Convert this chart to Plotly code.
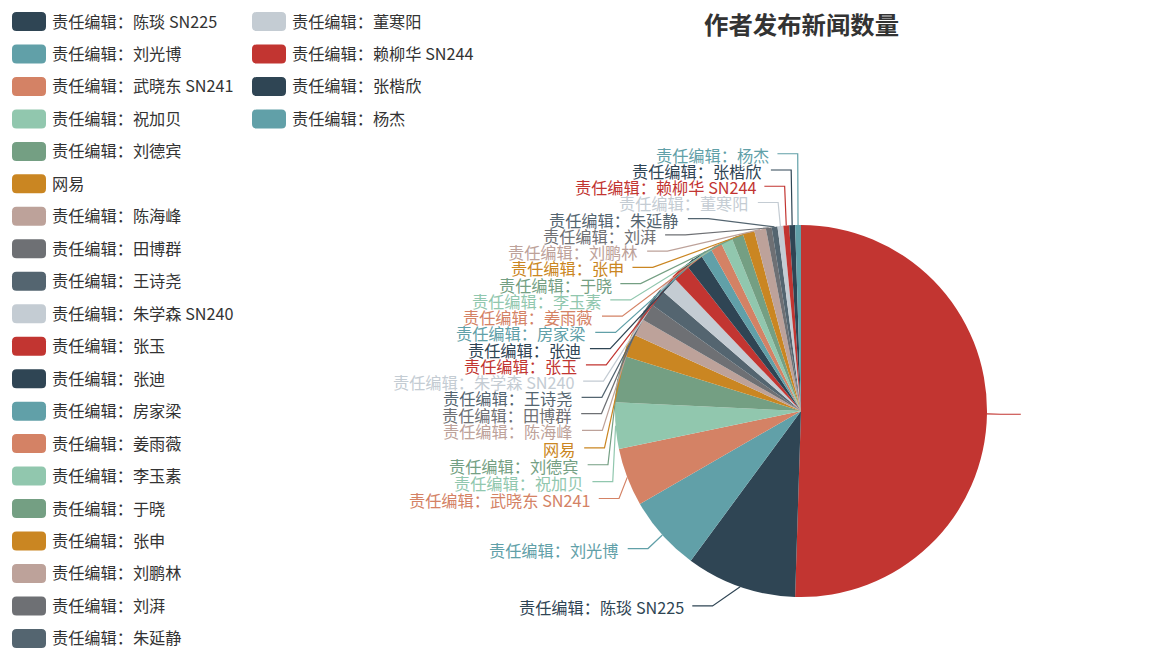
#!/usr/bin/env python3
# 作者发布新闻数量 - pie with stacked outside labels (echarts-like look)

import math
import plotly.graph_objects as go

# slice names (first slice has no name) and article counts
names = [
    "", "责任编辑：陈琰 SN225", "责任编辑：刘光博", "责任编辑：武晓东 SN241",
    "责任编辑：祝加贝", "责任编辑：刘德宾", "网易", "责任编辑：陈海峰",
    "责任编辑：田博群", "责任编辑：王诗尧", "责任编辑：朱学森 SN240", "责任编辑：张玉",
    "责任编辑：张迪", "责任编辑：房家梁", "责任编辑：姜雨薇", "责任编辑：李玉素",
    "责任编辑：于晓", "责任编辑：张申", "责任编辑：刘鹏林", "责任编辑：刘湃",
    "责任编辑：朱延静", "责任编辑：董寒阳", "责任编辑：赖柳华 SN244", "责任编辑：张楷欣",
    "责任编辑：杨杰",
]
counts = [100, 19, 13, 10, 8, 8, 4, 3, 3, 3, 3, 3, 3, 2, 2, 2, 2, 2, 2, 1, 1, 1, 1, 1, 1]
palette = ["#c23531", "#2f4554", "#61a0a8", "#d48265", "#91c7ae", "#749f83",
           "#ca8622", "#bda29a", "#6e7074", "#546570", "#c4ccd3"]
title = "作者发布新闻数量"

W, H = 1169, 671
CX, CY, R = 801, 411, 186
S = 1.353                      # echarts default sizes, scaled to this picture
LEN1 = LEN2 = 15 * S
GAP = 5 * S
LABEL_H = 12 * S
FONT = "Noto Sans CJK SC"

colors = [palette[i % len(palette)] for i in range(len(names))]

# ---- label placement, same idea as echarts' pie label layout
total = sum(counts)
items = []
acc = 0
for i, v in enumerate(counts):
    mid = (acc + v / 2) / total * 2 * math.pi
    acc += v
    nx, ny = math.sin(mid), -math.cos(mid)
    x1, y1 = CX + R * nx, CY + R * ny
    x2, y2 = x1 + nx * LEN1, y1 + ny * LEN1
    side = -1 if nx < 0 else 1
    x3 = x2 + side * LEN2
    items.append(dict(i=i, x=x3 + side * GAP, y=y2, side=side,
                      pts=[[x1, y1], [x2, y2], [x3, y2]]))


def change_x(lst, is_down, side):
    last = float("inf") if is_down else 0
    for o in lst:
        dy = abs(o["y"] - CY)
        if dy < R + LEN1:
            dx = math.sqrt((R + LEN1 + LEN2) ** 2 - dy ** 2)
        else:
            dx = abs(o["x"] - CX)
        if is_down and dx >= last:
            dx = last - 10 * S
        if not is_down and dx <= last:
            dx = last + 10 * S
        o["x"] = CX + dx * side
        last = dx


def adjust_side(lst, side):
    lst.sort(key=lambda o: o["y"])
    n = len(lst)

    def shift_up(end, delta):
        for j in range(end, -1, -1):
            if lst[j]["y"] - delta < 0:
                break
            lst[j]["y"] -= delta
            if j > 0 and lst[j]["y"] > lst[j - 1]["y"] + LABEL_H:
                break

    def shift_down(start, end, delta):
        for j in range(start, end):
            if lst[j]["y"] + delta > H:
                break
            lst[j]["y"] += delta
            if j > start and j + 1 < end and lst[j + 1]["y"] > lst[j]["y"] + LABEL_H:
                shift_up(j, delta / 2)
                return
        shift_up(end - 1, delta / 2)

    last_y = 0
    for k in range(n):
        delta = lst[k]["y"] - last_y
        if delta < 0:
            shift_down(k, n, -delta)
        last_y = lst[k]["y"] + LABEL_H
    if H - last_y < 0:
        shift_up(n - 1, last_y - H)
    change_x([o for o in lst if o["y"] < CY], False, side)
    change_x([o for o in lst if o["y"] >= CY], True, side)


adjust_side([o for o in items if o["side"] < 0], -1)
adjust_side([o for o in items if o["side"] > 0], 1)

for o in items:
    p = o["pts"]
    dist = p[1][0] - p[2][0]
    p[2][0] = o["x"] - o["side"] * GAP
    p[1][0] = p[2][0] + dist
    p[1][1] = p[2][1] = o["y"]

# ---- figure
fig = go.Figure()
fig.add_trace(go.Pie(
    labels=[n or " " for n in names],
    values=counts,
    sort=False,
    direction="clockwise",
    textinfo="none",
    marker=dict(colors=colors),
    showlegend=False,
    hoverinfo="label+value+percent",
    domain=dict(x=[(CX - R) / W, (CX + R) / W], y=[(H - CY - R) / H, (H - CY + R) / H]),
))
# empty trace so the pixel axes exist for lines and texts
fig.add_trace(go.Scatter(x=[], y=[], showlegend=False, hoverinfo="skip"))

shapes = []
annotations = []
for o in items:
    p = o["pts"]
    c = colors[o["i"]]
    shapes.append(dict(
        type="path", xref="x", yref="y", layer="above",
        path="M{:.2f},{:.2f} L{:.2f},{:.2f} L{:.2f},{:.2f}".format(*p[0], *p[1], *p[2]),
        line=dict(color=c, width=1.2),
    ))
    if names[o["i"]]:
        annotations.append(dict(
            xref="x", yref="y", x=o["x"], y=o["y"] + 1, text=names[o["i"]],
            showarrow=False, xanchor="right" if o["side"] < 0 else "left",
            yanchor="middle", font=dict(family=FONT, size=16.2, color=c),
        ))

# legend (two columns of 20 rows), drawn by hand
rows = 20
for k, n in enumerate(names[1:]):
    col, row = divmod(k, rows)
    c = colors[k + 1]
    x0 = 12 + col * 240
    yc = 21.5 + row * 32.47
    w, h, rr = 34, 19, 4.5
    y0, y1, x1 = yc - h / 2, yc + h / 2, x0 + w
    shapes.append(dict(
        type="path", xref="x", yref="y", layer="above",
        path=(f"M{x0 + rr},{y0} L{x1 - rr},{y0} Q{x1},{y0} {x1},{y0 + rr} "
              f"L{x1},{y1 - rr} Q{x1},{y1} {x1 - rr},{y1} L{x0 + rr},{y1} "
              f"Q{x0},{y1} {x0},{y1 - rr} L{x0},{y0 + rr} Q{x0},{y0} {x0 + rr},{y0} Z"),
        fillcolor=c, line=dict(width=0),
    ))
    annotations.append(dict(
        xref="x", yref="y", x=x1 + 3.5, y=yc - 1, text=n, showarrow=False,
        xanchor="left", yanchor="middle",
        font=dict(family=FONT, size=16.2, color="#333"),
    ))

annotations.append(dict(
    xref="x", yref="y", x=CX, y=23, text=f"<b>{title}</b>", showarrow=False,
    xanchor="center", yanchor="middle",
    font=dict(family=FONT, size=24.4, color="#333"),
))

fig.update_layout(
    width=W, height=H,
    margin=dict(l=0, r=0, t=0, b=0),
    paper_bgcolor="white", plot_bgcolor="rgba(0,0,0,0)",
    xaxis=dict(range=[0, W], visible=False, fixedrange=True),
    yaxis=dict(range=[H, 0], visible=False, fixedrange=True),
    shapes=shapes, annotations=annotations,
    font=dict(family=FONT),
    showlegend=False,
)

fig.write_html("out.html", config={"displayModeBar": False},
               post_script="document.body.style.margin='0';")
